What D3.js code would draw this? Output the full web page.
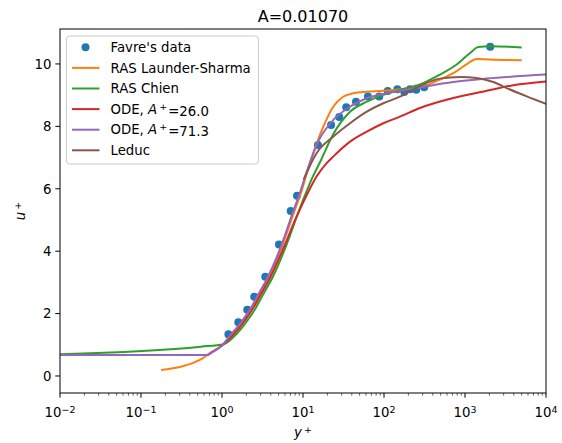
<!DOCTYPE html>
<html>
<head>
<meta charset="utf-8">
<script src="https://cdn.jsdelivr.net/npm/d3@7"></script>
<style>
  body { margin: 0; background: #fff; }
  svg text { font-family: "DejaVu Sans", sans-serif; fill: #000; }
</style>
</head>
<body>
<div id="chart"></div>
<script>
// Favre's measurements (y+, u+)
var favreY = [1.2, 1.59, 2.05, 2.5, 3.42, 5.05, 7.05, 8.44, 15.3, 22.2, 28.0, 34.2, 45.1, 63.3, 87.4, 111, 146, 178, 209, 250, 313, 2048];
var favreU = [1.34, 1.72, 2.12, 2.54, 3.18, 4.21, 5.29, 5.78, 7.40, 8.04, 8.30, 8.61, 8.79, 8.96, 8.96, 9.13, 9.19, 9.10, 9.19, 9.17, 9.25, 10.55];

// RAS Launder-Sharma
var launderY = [0.177, 0.55, 0.7, 1.0, 1.34, 1.77, 2.27, 2.78, 3.81, 5.6, 7.85, 9.4, 11.3, 13.4, 17.8, 23.6, 31.3, 41.7, 61.3, 98, 157, 278, 370, 491, 790, 1099, 1394, 2036, 5014];
var launderU = [0.19, 0.53, 0.72, 0.98, 1.34, 1.72, 2.12, 2.54, 3.18, 4.21, 5.29, 5.85, 6.55, 7.14, 7.99, 8.63, 8.95, 9.06, 9.11, 9.14, 9.19, 9.27, 9.36, 9.5, 9.77, 10.03, 10.16, 10.14, 10.12];

// RAS Chien
var chienY = [0.01, 0.55, 1.05, 1.5, 1.98, 2.53, 3.1, 4.25, 6.27, 8.9, 10.8, 13.0, 16.2, 23.6, 38.1, 61.3, 98, 157, 278, 491, 790, 1153, 1459, 2036, 5014];
var chienU = [0.70, 0.94, 1.02, 1.34, 1.72, 2.12, 2.54, 3.18, 4.21, 5.29, 5.85, 6.35, 6.85, 7.75, 8.47, 8.79, 9.01, 9.17, 9.34, 9.66, 9.98, 10.35, 10.54, 10.57, 10.53];

// ODE, A+=26.0
var ode26Y = [0.01, 0.65, 0.75, 1.0, 1.4, 1.84, 2.35, 2.9, 3.98, 5.85, 8.0, 10, 12, 14.7, 19.6, 23.6, 38.1, 61.3, 98, 157, 278, 718, 1853, 3948, 10000];
var ode26U = [0.67, 0.67, 0.76, 0.98, 1.34, 1.72, 2.12, 2.54, 3.18, 4.15, 5.0, 5.55, 5.97, 6.39, 6.82, 7.03, 7.51, 7.83, 8.10, 8.31, 8.59, 8.91, 9.14, 9.32, 9.44];

// ODE, A+=71.3
var ode71Y = [0.01, 0.65, 0.75, 1.0, 1.3, 1.72, 2.2, 2.7, 3.7, 5.45, 7.6, 9.1, 10.5, 12.2, 15.3, 23.6, 38.1, 61.3, 98, 157, 278, 718, 1853, 10000];
var ode71U = [0.67, 0.67, 0.76, 0.98, 1.34, 1.72, 2.12, 2.54, 3.18, 4.21, 5.29, 5.85, 6.35, 6.85, 7.5, 8.2, 8.63, 8.9, 9.04, 9.14, 9.25, 9.42, 9.53, 9.66];

// Leduc
var leducY = [10.2, 14.7, 23.6, 38.1, 61.3, 98, 157, 278, 491, 867, 1394, 2236, 3594, 5780, 10000];
var leducU = [6.3, 7.14, 7.67, 8.10, 8.47, 8.74, 8.95, 9.3, 9.53, 9.58, 9.55, 9.42, 9.18, 8.96, 8.72];

var xTicks = [1e-2, 1e-1, 1e0, 1e1, 1e2, 1e3, 1e4];
var xExponents = ["\u22122", "\u22121", "0", "1", "2", "3", "4"];
var yTicks = [0, 2, 4, 6, 8, 10];

function zip(xs, ys) {
  return xs.map(function(x, i) { return {x: x, y: ys[i]}; });
}

var series = [
  {label: "RAS Launder-Sharma", color: "#ff7f0e", data: zip(launderY, launderU)},
  {label: "RAS Chien", color: "#2ca02c", data: zip(chienY, chienU)},
  {label: "ODE26", color: "#d62728", data: zip(ode26Y, ode26U)},
  {label: "ODE71", color: "#9467bd", data: zip(ode71Y, ode71U)},
  {label: "Leduc", color: "#8c564b", data: zip(leducY, leducU)}
];

var W = 562, H = 443;
var margin = {top: 29, right: 16, bottom: 50, left: 60};
var width = W - margin.left - margin.right,
    height = H - margin.top - margin.bottom;

var svg = d3.select("#chart").append("svg")
  .attr("width", W).attr("height", H);

var g = svg.append("g")
  .attr("transform", "translate(" + margin.left + "," + margin.top + ")");

var x = d3.scaleLog().domain([1e-2, 1e4]).range([0, width]);
var y = d3.scaleLinear().domain([-0.545, 11.12]).range([height, 0]);

g.append("clipPath").attr("id", "clip")
  .append("rect").attr("width", width).attr("height", height);

var line = d3.line()
  .x(function(d) { return x(d.x); })
  .y(function(d) { return y(d.y); })
  .curve(d3.curveMonotoneX);

var plot = g.append("g").attr("clip-path", "url(#clip)");

// data points first, lines on top (matplotlib order)
plot.selectAll(".dot")
  .data(zip(favreY, favreU))
  .enter().append("circle")
  .attr("class", "dot")
  .attr("cx", function(d) { return x(d.x); })
  .attr("cy", function(d) { return y(d.y); })
  .attr("r", 4)
  .attr("fill", "#1f77b4");

plot.selectAll(".curve")
  .data(series)
  .enter().append("path")
  .attr("class", "curve")
  .attr("d", function(d) { return line(d.data); })
  .attr("fill", "none")
  .attr("stroke", function(d) { return d.color; })
  .attr("stroke-width", 2)
  .attr("stroke-linejoin", "round");

// x axis with minor ticks
var minor = [];
for (var e = -2; e < 4; e++) {
  for (var k = 2; k < 10; k++) minor.push(k * Math.pow(10, e));
}

var xAxis = g.append("g").attr("transform", "translate(0," + height + ")");
xAxis.selectAll(".minor").data(minor).enter().append("line")
  .attr("x1", function(d) { return x(d); }).attr("x2", function(d) { return x(d); })
  .attr("y1", 0).attr("y2", 2.7)
  .attr("stroke", "#000").attr("stroke-width", 0.6);
xAxis.selectAll(".major").data(xTicks).enter().append("line")
  .attr("x1", function(d) { return x(d); }).attr("x2", function(d) { return x(d); })
  .attr("y1", 0).attr("y2", 4.7)
  .attr("stroke", "#000").attr("stroke-width", 1);

var xl = xAxis.selectAll(".xlab").data(xTicks).enter().append("text")
  .attr("x", function(d) { return x(d); })
  .attr("y", 24)
  .attr("text-anchor", "middle")
  .style("font-size", "13.3px");
xl.append("tspan").text("10");
xl.append("tspan")
  .attr("dy", "-0.45em")
  .style("font-size", "9.5px")
  .text(function(d, i) { return xExponents[i]; });

// y axis
var yAxis = g.append("g");
yAxis.selectAll(".ytick").data(yTicks).enter().append("line")
  .attr("x1", -4.7).attr("x2", 0)
  .attr("y1", function(d) { return y(d); }).attr("y2", function(d) { return y(d); })
  .attr("stroke", "#000").attr("stroke-width", 1);
yAxis.selectAll(".ylab").data(yTicks).enter().append("text")
  .attr("x", -8.5)
  .attr("y", function(d) { return y(d); })
  .attr("dy", "0.36em")
  .attr("text-anchor", "end")
  .style("font-size", "13.3px")
  .text(function(d) { return d; });

// frame
g.append("rect")
  .attr("width", width).attr("height", height)
  .attr("fill", "none").attr("stroke", "#000").attr("stroke-width", 1);

// title and axis labels
svg.append("text")
  .attr("x", margin.left + width / 2).attr("y", 22)
  .attr("text-anchor", "middle")
  .style("font-size", "16px")
  .text("A=0.01070");

var xlab = svg.append("text")
  .attr("x", margin.left + width / 2).attr("y", 437)
  .attr("text-anchor", "middle")
  .style("font-size", "13.3px");
xlab.append("tspan").style("font-style", "italic").text("y");
xlab.append("tspan").attr("dy", "-0.45em").attr("dx", 2).style("font-size", "9.5px").text("+");

var ylab = svg.append("text")
  .attr("transform", "translate(25," + (margin.top + height / 2) + ") rotate(-90)")
  .attr("text-anchor", "middle")
  .style("font-size", "13.3px");
ylab.append("tspan").style("font-style", "italic").text("u");
ylab.append("tspan").attr("dy", "-0.45em").attr("dx", 2).style("font-size", "9.5px").text("+");

// legend
var leg = svg.append("g").attr("transform", "translate(66.5,36)");
leg.append("rect")
  .attr("width", 192).attr("height", 128)
  .attr("rx", 3)
  .attr("fill", "#fff").attr("fill-opacity", 0.8)
  .attr("stroke", "#cccccc").attr("stroke-width", 1);

var rowY = function(i) { return 11.3 + i * 20.6; };

leg.append("circle")
  .attr("cx", 19).attr("cy", rowY(0)).attr("r", 4).attr("fill", "#1f77b4");
leg.append("text").attr("x", 44).attr("y", rowY(0)).attr("dy", "0.36em")
  .style("font-size", "13.3px").text("Favre's data");

series.forEach(function(s, i) {
  var yy = rowY(i + 1);
  leg.append("line")
    .attr("x1", 5.5).attr("x2", 33).attr("y1", yy).attr("y2", yy)
    .attr("stroke", s.color).attr("stroke-width", 2);
  var t = leg.append("text").attr("x", 44).attr("y", yy).attr("dy", "0.36em")
    .style("font-size", "13.3px");
  if (s.label === "ODE26" || s.label === "ODE71") {
    t.append("tspan").text("ODE, ");
    t.append("tspan").style("font-style", "italic").text("A");
    t.append("tspan").attr("dy", "-0.45em").attr("dx", 2).style("font-size", "9.5px").text("+");
    t.append("tspan").attr("dy", "0.45em").attr("dx", 1)
      .text(s.label === "ODE26" ? "=26.0" : "=71.3");
  } else {
    t.text(s.label);
  }
});
</script>
</body>
</html>
